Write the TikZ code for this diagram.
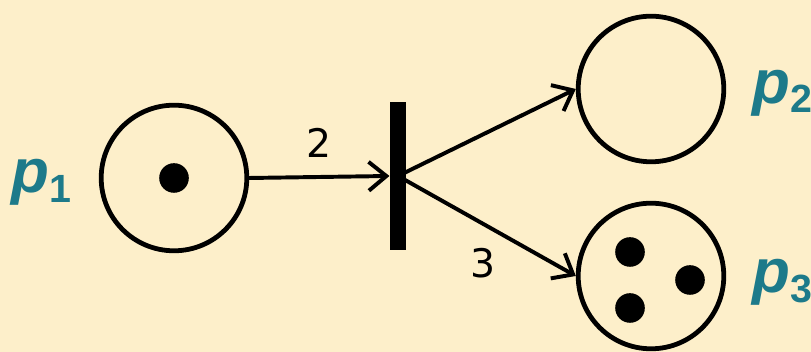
\documentclass[tikz,border=0pt]{standalone}
\usepackage{fontspec}
\setmainfont{DejaVu Sans}
\newfontfamily\labfont{Liberation Sans}
\usepackage{tikz}
\usetikzlibrary{positioning, arrows.meta, calc}
\definecolor{paper}{HTML}{FDEFCA}
\definecolor{labteal}{HTML}{1D7A8A}
\newcommand{\plab}[1]{p\raisebox{-0.3ex}{\fontsize{14}{14}\selectfont\upshape #1}}
\tikzset{
  % place of the net
  place/.style={circle, draw=black, line width=1.7pt,
                inner sep=0pt, minimum size=1.82cm},
  % black token inside a place
  token/.style={circle, fill=black, inner sep=0pt, minimum size=0.37cm},
  % transition bar
  trans/.style={rectangle, fill=black, inner sep=0pt,
                minimum width=0.2cm, minimum height=1.85cm},
  % arc with weight
  arc/.style={-{Straight Barb[length=2.2mm,width=3.6mm]}, line width=1.4pt},
  placelab/.style={text=labteal, inner sep=0pt,
                   font=\labfont\fontsize{22}{22}\selectfont\bfseries\itshape},
  weight/.style={font=\fontsize{14}{14}\selectfont},
}
\begin{document}
\begin{tikzpicture}
  \fill[paper] (0,0) rectangle (10.1375,4.4);
  \useasboundingbox (0,0) rectangle (10.1375,4.4);
  \node[place] (p1) at (2.175,2.175) {};
  \node[place] (p2) at (8.1375,3.2875) {};
  \node[place] (p3) at (8.1375,0.95) {};
  \node[trans] (t) at (4.975,2.2) {};
  \node[token] (k1) at (p1.center) {};
  \foreach \n/\x/\y in {a/7.875/1.25, b/8.625/0.9, c/7.875/0.55}
    \node[token] (k\n) at (\x,\y) {};
  \node[placelab] (l1) at (0.52,2.12) {\plab{1}};
  \node[placelab] (l2) at (9.78,3.24) {\plab{2}};
  \node[placelab] (l3) at (9.78,0.87) {\plab{3}};
  \draw[arc] (p1.east) -- (t.west)
    node[weight, midway, above=3pt] (w2) {2};
  \draw[arc] (t.center) -- (p2.west);
  \draw[arc] (t.center) -- (p3.west)
    node[weight, pos=0.55, below left=2pt and -4pt] (w3) {3};
\end{tikzpicture}
\end{document}
